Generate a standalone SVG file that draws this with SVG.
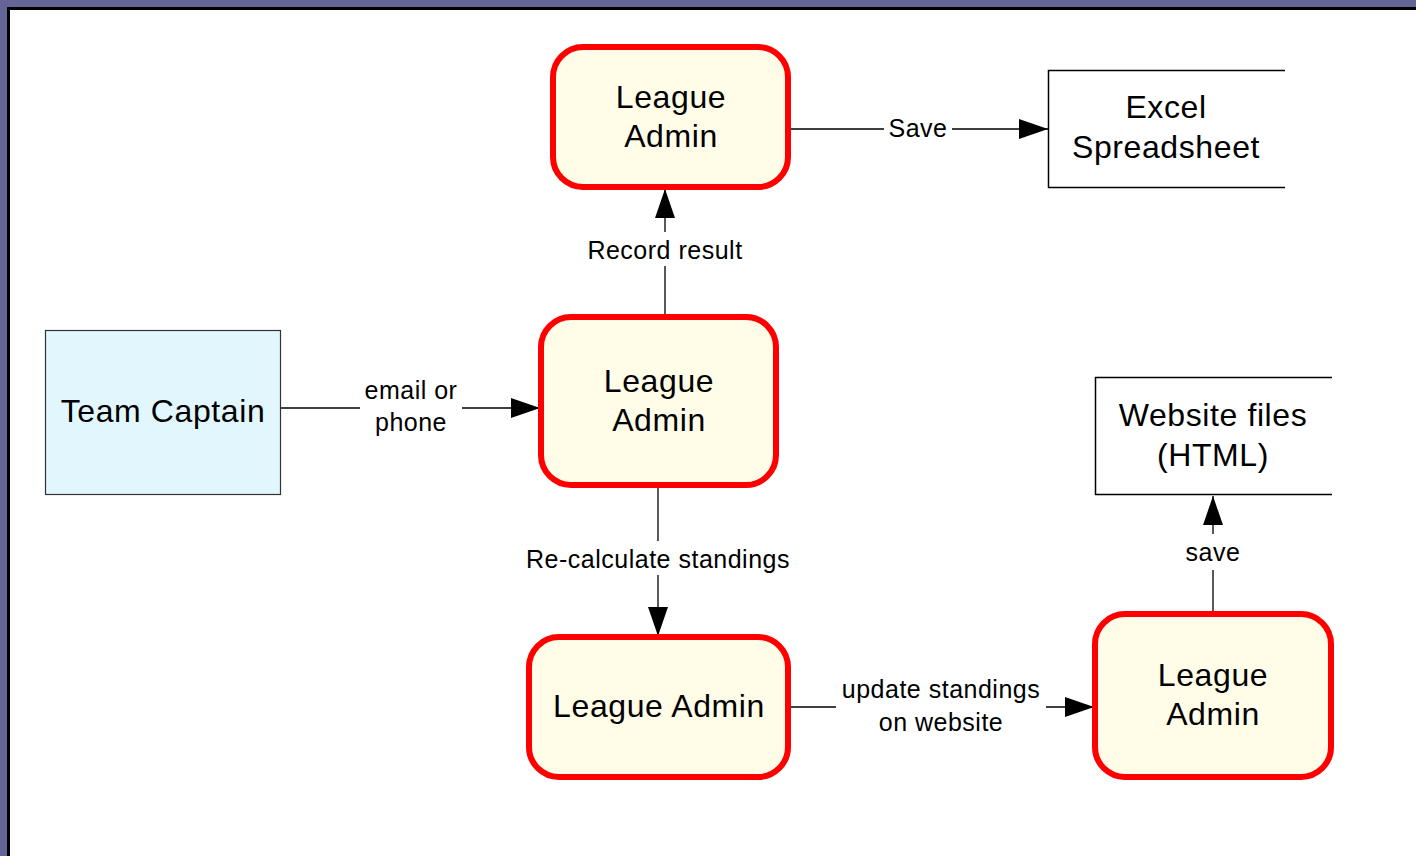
<svg xmlns="http://www.w3.org/2000/svg" width="1416" height="856" viewBox="0 0 1416 856">
  <style>
    .proc { fill: #FFFCE8; stroke: #FF0000; stroke-width: 6; }
    .ext { fill: #E1F6FD; stroke: #333333; stroke-width: 1.2; }
    .store-edge { fill: none; stroke: #000000; stroke-width: 1.5; }
    .node-text { font-family: "Liberation Sans", Arial, sans-serif; font-size: 32px; letter-spacing: 0.6px; fill: #000000; text-anchor: middle; }
    .flow { fill: none; stroke: #000000; stroke-width: 1.3; }
    .label-bg { fill: #FFFFFF; }
    .label { font-family: "Liberation Sans", Arial, sans-serif; font-size: 25px; letter-spacing: 0.5px; fill: #000000; text-anchor: middle; }
  </style>
  <defs>
    <marker id="arrow" markerUnits="userSpaceOnUse" markerWidth="30" markerHeight="22" refX="29" refY="10" orient="auto" viewBox="0 0 30 20">
      <path d="M0,0 L29,10 L0,20 Z" fill="#000000"/>
    </marker>
  </defs>

  <!-- page frame -->
  <rect x="0" y="0" width="1416" height="856" fill="#646496"/>
  <rect x="8.5" y="8.5" width="1430" height="870" fill="#FFFFFF" stroke="#000000" stroke-width="3"/>

  <!-- connectors -->
  <g id="connectors">
    <line class="flow" x1="789" y1="129" x2="1048" y2="129" marker-end="url(#arrow)"/>
    <line class="flow" x1="665" y1="316" x2="665" y2="189" marker-end="url(#arrow)"/>
    <line class="flow" x1="281" y1="408" x2="540" y2="408" marker-end="url(#arrow)"/>
    <line class="flow" x1="658" y1="486" x2="658" y2="636" marker-end="url(#arrow)"/>
    <line class="flow" x1="789" y1="707" x2="1094" y2="707" marker-end="url(#arrow)"/>
    <line class="flow" x1="1213" y1="613" x2="1213" y2="496" marker-end="url(#arrow)"/>

    <rect class="label-bg" x="884" y="112" width="68" height="32"/>
    <text class="label" x="918" y="137">Save</text>

    <rect class="label-bg" x="583" y="232" width="164" height="34"/>
    <text class="label" x="665" y="259">Record result</text>

    <rect class="label-bg" x="360" y="374" width="102" height="66"/>
    <text class="label" x="411" y="399">email or</text>
    <text class="label" x="411" y="431">phone</text>

    <rect class="label-bg" x="520" y="541" width="276" height="34"/>
    <text class="label" x="658" y="568">Re-calculate standings</text>

    <rect class="label-bg" x="836" y="673" width="210" height="66"/>
    <text class="label" x="941" y="698">update standings</text>
    <text class="label" x="941" y="731">on website</text>

    <rect class="label-bg" x="1180" y="534" width="66" height="36"/>
    <text class="label" x="1213" y="561">save</text>
  </g>

  <!-- external entity -->
  <g id="team-captain">
    <rect class="ext" x="45.5" y="330.5" width="235" height="164"/>
    <text class="node-text" x="163" y="422">Team Captain</text>
  </g>

  <!-- processes -->
  <g id="admin-record">
    <rect class="proc" x="553" y="47" width="235" height="140" rx="30" ry="30"/>
    <text class="node-text" x="671" y="108">League</text>
    <text class="node-text" x="671" y="147">Admin</text>
  </g>

  <g id="admin-receive">
    <rect class="proc" x="541" y="317" width="235" height="168" rx="30" ry="30"/>
    <text class="node-text" x="659" y="392">League</text>
    <text class="node-text" x="659" y="431">Admin</text>
  </g>

  <g id="admin-calc">
    <rect class="proc" x="529" y="637" width="259" height="140" rx="30" ry="30"/>
    <text class="node-text" x="659" y="717">League Admin</text>
  </g>

  <g id="admin-publish">
    <rect class="proc" x="1095" y="614" width="236" height="163" rx="30" ry="30"/>
    <text class="node-text" x="1213" y="686">League</text>
    <text class="node-text" x="1213" y="725">Admin</text>
  </g>

  <!-- data stores (open on the right) -->
  <g id="excel-store">
    <rect x="1048" y="70" width="237" height="118" fill="#FFFFFF"/>
    <path class="store-edge" d="M1285,70.5 H1048.5 V187.5 H1285"/>
    <text class="node-text" x="1166" y="118">Excel</text>
    <text class="node-text" x="1166" y="158">Spreadsheet</text>
  </g>

  <g id="website-store">
    <rect x="1095" y="377" width="237" height="118" fill="#FFFFFF"/>
    <path class="store-edge" d="M1332,377.5 H1095.5 V494.5 H1332"/>
    <text class="node-text" x="1213" y="426">Website files</text>
    <text class="node-text" x="1213" y="466">(HTML)</text>
  </g>
</svg>
